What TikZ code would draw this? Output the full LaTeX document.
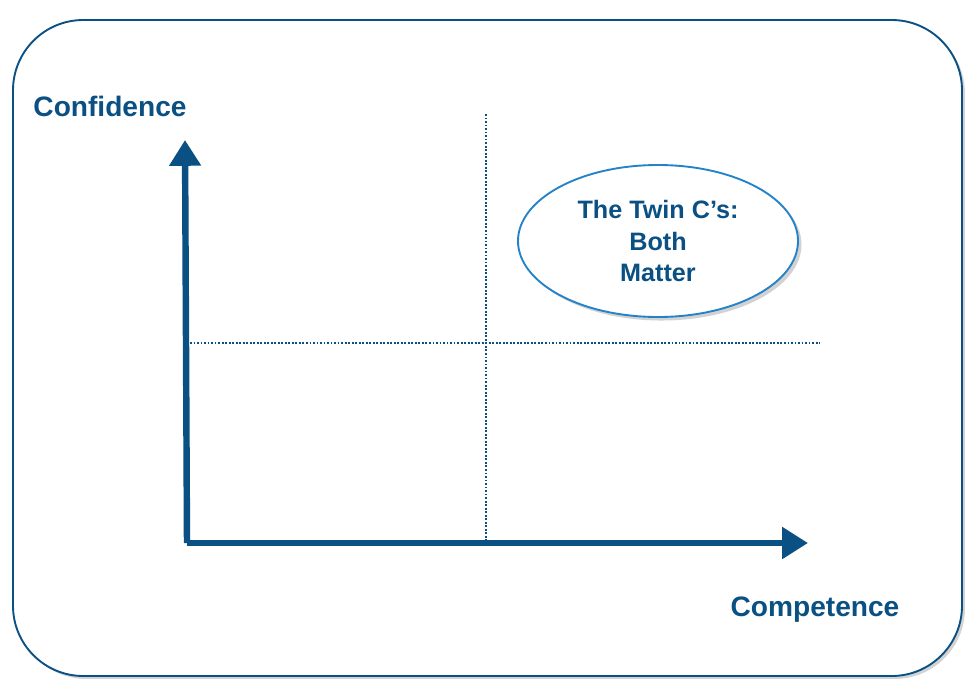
\documentclass[tikz,border=0pt]{standalone}
\usepackage{fontspec}
\setmainfont{Liberation Sans}
\usepackage{xcolor}
\usetikzlibrary{arrows.meta,shadows,shapes.geometric}
\definecolor{darkblue}{RGB}{10,80,130}
\definecolor{ringblue}{RGB}{35,130,200}

\begin{document}
\begin{tikzpicture}[x=0.03cm,y=-0.03cm,
  axis/.style={draw=darkblue,line width=5.5pt,-{Triangle[length=22pt,width=26pt]}},
  grid/.style={draw=darkblue,line width=1.8pt,dash pattern=on 1.6pt off 1.4pt},
  label/.style={text=darkblue,font=\bfseries\fontsize{24}{27}\selectfont},
  bubble/.style={ellipse,draw=ringblue,line width=1.6pt,fill=white,minimum width=280*0.03cm,minimum height=152*0.03cm,align=center,text=darkblue,font=\bfseries\fontsize{21.5}{27}\selectfont,drop shadow={opacity=0.35,shadow xshift=3pt,shadow yshift=-3pt}}]
\useasboundingbox (0,0) rectangle (976,696);
\draw[darkblue,line width=1.6pt,fill=white,rounded corners=60pt,drop shadow={opacity=0.35,shadow xshift=2.5pt,shadow yshift=-2.5pt}] (13,20) rectangle (962,676);
\coordinate (origin) at (187,543);
\coordinate (ytip) at (185,140);
\coordinate (xtip) at (808,543);
\draw[grid] (486,114) -- (486,543);
\draw[grid] (190,343) -- (820,343);
\draw[axis] (origin) -- (ytip);
\draw[axis] (origin) -- (xtip);
\node[label] (conf) at (110,106) {Confidence};
\node[label] (comp) at (815,610) {Competence};
\node[bubble] (twin) at (658,241) {The Twin C’s:\\Both\\Matter};
\end{tikzpicture}
\end{document}
